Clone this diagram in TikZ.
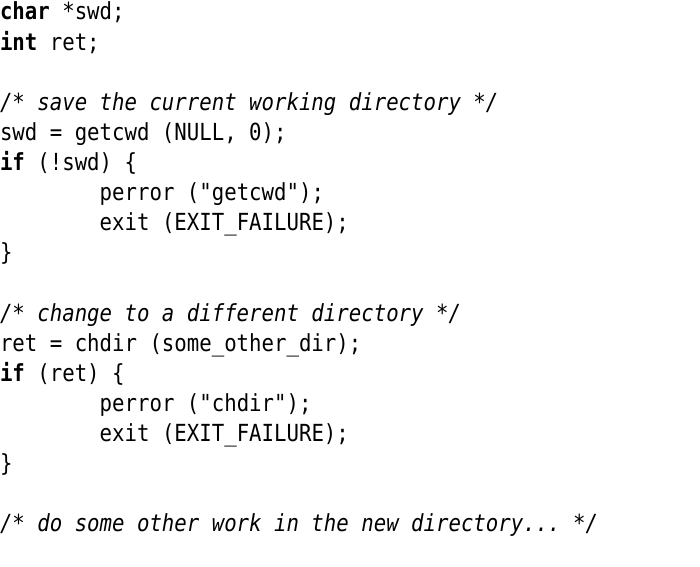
\documentclass[tikz,border=0pt]{standalone}
\usepackage{fontspec}
\setmonofont[FakeStretch=0.88]{DejaVu Sans Mono}
\begin{document}
\begin{tikzpicture}[x=0.75pt,y=0.75pt,
  codeline/.style={anchor=base west,inner sep=0pt,outer sep=0pt,font=\ttfamily\fontsize{17.64pt}{20pt}\selectfont}]
\useasboundingbox (0,0) rectangle (700,-567);
\def\ls{30.1}
\def\bl{20}
\def\ind{99.7}
\newcommand\kwd[1]{\textbf{#1}}
\newcommand\cmt[1]{\textit{#1}}
\node[codeline] (l0) at (0,{-\bl-0*\ls}) {\kwd{char} *swd;};
\node[codeline] (l1) at (0,{-\bl-1*\ls}) {\kwd{int} ret;};
\node[codeline] (l3) at (0,{-\bl-3*\ls}) {\cmt{/* save the current working directory */}};
\node[codeline] (l4) at (0,{-\bl-4*\ls}) {swd = getcwd (NULL, 0);};
\node[codeline] (l5) at (0,{-\bl-5*\ls}) {\kwd{if} (!swd) \{};
\node[codeline] (l6) at (\ind,{-\bl-6*\ls}) {perror ("getcwd");};
\node[codeline] (l7) at (\ind,{-\bl-7*\ls}) {exit (EXIT\_FAILURE);};
\node[codeline] (l8) at (0,{-\bl-8*\ls}) {\}};
\node[codeline] (l10) at (0,{-\bl-10*\ls}) {\cmt{/* change to a different directory */}};
\node[codeline] (l11) at (0,{-\bl-11*\ls}) {ret = chdir (some\_other\_dir);};
\node[codeline] (l12) at (0,{-\bl-12*\ls}) {\kwd{if} (ret) \{};
\node[codeline] (l13) at (\ind,{-\bl-13*\ls}) {perror ("chdir");};
\node[codeline] (l14) at (\ind,{-\bl-14*\ls}) {exit (EXIT\_FAILURE);};
\node[codeline] (l15) at (0,{-\bl-15*\ls}) {\}};
\node[codeline] (l17) at (0,{-\bl-17*\ls}) {\cmt{/* do some other work in the new directory... */}};
\end{tikzpicture}
\end{document}
